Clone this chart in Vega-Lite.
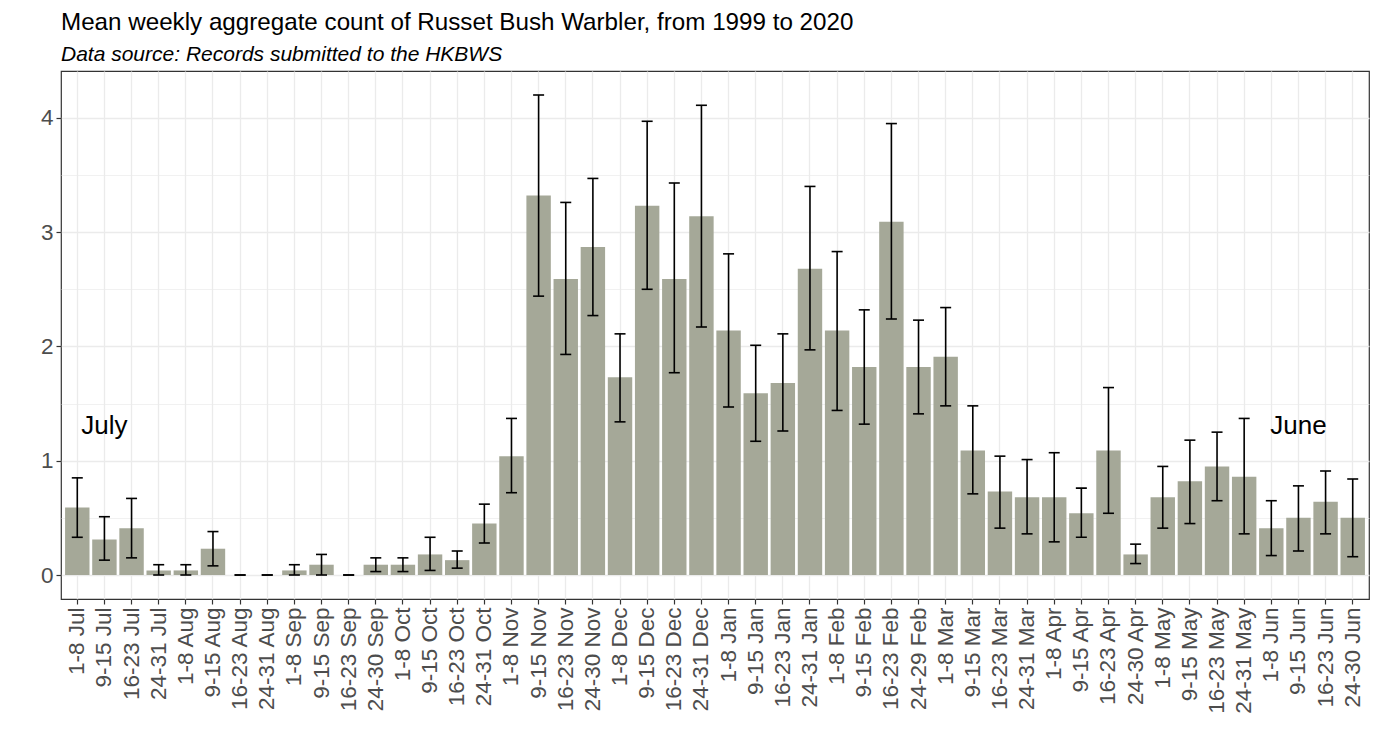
{
  "$schema": "https://vega.github.io/schema/vega-lite/v6.json",
  "width": 1308,
  "height": 528,
  "autosize": "none",
  "padding": {"left": 61, "top": 71, "right": 10, "bottom": 153},
  "background": "white",
  "title": {
    "text": "Mean weekly aggregate count of Russet Bush Warbler, from 1999 to 2020",
    "subtitle": "Data source: Records submitted to the HKBWS",
    "anchor": "start",
    "frame": "group",
    "font": "Liberation Sans",
    "fontSize": 24.2,
    "fontWeight": "normal",
    "color": "black",
    "subtitleFont": "Liberation Sans",
    "subtitleFontSize": 21,
    "subtitleFontStyle": "italic",
    "subtitleColor": "black",
    "subtitlePadding": 9,
    "offset": 6
  },
  "data": {
    "values": [
      {"week": "1-8 Jul", "mean": 0.59, "lo": 0.33, "hi": 0.85},
      {"week": "9-15 Jul", "mean": 0.31, "lo": 0.13, "hi": 0.51, "note": "July"},
      {"week": "16-23 Jul", "mean": 0.41, "lo": 0.15, "hi": 0.67},
      {"week": "24-31 Jul", "mean": 0.04, "lo": 0, "hi": 0.09},
      {"week": "1-8 Aug", "mean": 0.04, "lo": 0, "hi": 0.09},
      {"week": "9-15 Aug", "mean": 0.23, "lo": 0.08, "hi": 0.38},
      {"week": "16-23 Aug", "mean": 0, "lo": 0, "hi": 0},
      {"week": "24-31 Aug", "mean": 0, "lo": 0, "hi": 0},
      {"week": "1-8 Sep", "mean": 0.04, "lo": 0, "hi": 0.09},
      {"week": "9-15 Sep", "mean": 0.09, "lo": 0, "hi": 0.18},
      {"week": "16-23 Sep", "mean": 0, "lo": 0, "hi": 0},
      {"week": "24-30 Sep", "mean": 0.09, "lo": 0.03, "hi": 0.15},
      {"week": "1-8 Oct", "mean": 0.09, "lo": 0.03, "hi": 0.15},
      {"week": "9-15 Oct", "mean": 0.18, "lo": 0.04, "hi": 0.33},
      {"week": "16-23 Oct", "mean": 0.13, "lo": 0.06, "hi": 0.21},
      {"week": "24-31 Oct", "mean": 0.45, "lo": 0.28, "hi": 0.62},
      {"week": "1-8 Nov", "mean": 1.04, "lo": 0.72, "hi": 1.37},
      {"week": "9-15 Nov", "mean": 3.32, "lo": 2.44, "hi": 4.2},
      {"week": "16-23 Nov", "mean": 2.59, "lo": 1.93, "hi": 3.26},
      {"week": "24-30 Nov", "mean": 2.87, "lo": 2.27, "hi": 3.47},
      {"week": "1-8 Dec", "mean": 1.73, "lo": 1.34, "hi": 2.11},
      {"week": "9-15 Dec", "mean": 3.23, "lo": 2.5, "hi": 3.97},
      {"week": "16-23 Dec", "mean": 2.59, "lo": 1.77, "hi": 3.43},
      {"week": "24-31 Dec", "mean": 3.14, "lo": 2.17, "hi": 4.11},
      {"week": "1-8 Jan", "mean": 2.14, "lo": 1.47, "hi": 2.81},
      {"week": "9-15 Jan", "mean": 1.59, "lo": 1.17, "hi": 2.01},
      {"week": "16-23 Jan", "mean": 1.68, "lo": 1.26, "hi": 2.11},
      {"week": "24-31 Jan", "mean": 2.68, "lo": 1.97, "hi": 3.4},
      {"week": "1-8 Feb", "mean": 2.14, "lo": 1.44, "hi": 2.83},
      {"week": "9-15 Feb", "mean": 1.82, "lo": 1.32, "hi": 2.32},
      {"week": "16-23 Feb", "mean": 3.09, "lo": 2.24, "hi": 3.95},
      {"week": "24-29 Feb", "mean": 1.82, "lo": 1.41, "hi": 2.23},
      {"week": "1-8 Mar", "mean": 1.91, "lo": 1.48, "hi": 2.34},
      {"week": "9-15 Mar", "mean": 1.09, "lo": 0.71, "hi": 1.48},
      {"week": "16-23 Mar", "mean": 0.73, "lo": 0.41, "hi": 1.04},
      {"week": "24-31 Mar", "mean": 0.68, "lo": 0.36, "hi": 1.01},
      {"week": "1-8 Apr", "mean": 0.68, "lo": 0.29, "hi": 1.07},
      {"week": "9-15 Apr", "mean": 0.54, "lo": 0.33, "hi": 0.76},
      {"week": "16-23 Apr", "mean": 1.09, "lo": 0.54, "hi": 1.64},
      {"week": "24-30 Apr", "mean": 0.18, "lo": 0.1, "hi": 0.27},
      {"week": "1-8 May", "mean": 0.68, "lo": 0.41, "hi": 0.95},
      {"week": "9-15 May", "mean": 0.82, "lo": 0.45, "hi": 1.18},
      {"week": "16-23 May", "mean": 0.95, "lo": 0.65, "hi": 1.25},
      {"week": "24-31 May", "mean": 0.86, "lo": 0.36, "hi": 1.37},
      {"week": "1-8 Jun", "mean": 0.41, "lo": 0.17, "hi": 0.65},
      {"week": "9-15 Jun", "mean": 0.5, "lo": 0.21, "hi": 0.78, "note": "June"},
      {"week": "16-23 Jun", "mean": 0.64, "lo": 0.36, "hi": 0.91},
      {"week": "24-30 Jun", "mean": 0.5, "lo": 0.16, "hi": 0.84}
    ]
  },
  "encoding": {
    "x": {
      "field": "week",
      "type": "ordinal",
      "sort": null,
      "scale": {"paddingInner": 0.1, "paddingOuter": 0.15},
      "axis": {
        "title": null,
        "labelAngle": 270,
        "labelFontSize": 22.5,
        "labelColor": "#4d4d4d",
        "labelPadding": 3,
        "tickColor": "#333333",
        "tickSize": 5,
        "tickWidth": 1.2,
        "grid": true,
        "gridColor": "#ebebeb",
        "gridWidth": 1.3,
        "bandPosition": 0.5,
        "domain": false
      }
    }
  },
  "layer": [
    {
      "mark": {"type": "bar", "color": "#a5a898"},
      "encoding": {
        "y": {
          "field": "mean",
          "type": "quantitative",
          "scale": {"domain": [-0.21, 4.41], "nice": false, "zero": false},
          "axis": {
            "title": null,
            "values": [0, 0.5, 1, 1.5, 2, 2.5, 3, 3.5, 4],
            "labelExpr": "datum.value % 1 == 0 ? format(datum.value, 'd') : ''",
            "labelFontSize": 22.5,
            "labelColor": "#4d4d4d",
            "labelPadding": 3,
            "tickColor": "#333333",
            "tickSize": 5,
            "tickWidth": 1.2,
            "tickOpacity": {"condition": {"test": "datum.value % 1 != 0", "value": 0}, "value": 1},
            "gridColor": "#ebebeb",
            "gridWidth": {"condition": {"test": "datum.value % 1 != 0", "value": 0.7}, "value": 1.3},
            "domain": false
          }
        },
        "y2": {"datum": 0}
      }
    },
    {
      "mark": {"type": "rule", "color": "black", "strokeWidth": 1.6},
      "encoding": {
        "y": {"field": "lo", "type": "quantitative"},
        "y2": {"field": "hi"}
      }
    },
    {
      "mark": {"type": "tick", "color": "black", "size": 11, "thickness": 1.6, "opacity": 1},
      "encoding": {"y": {"field": "lo", "type": "quantitative"}}
    },
    {
      "mark": {"type": "tick", "color": "black", "size": 11, "thickness": 1.6, "opacity": 1},
      "encoding": {"y": {"field": "hi", "type": "quantitative"}}
    },
    {
      "transform": [{"filter": "datum.note != null"}],
      "mark": {"type": "text", "font": "Liberation Sans", "fontSize": 26, "color": "black", "align": "center", "baseline": "middle"},
      "encoding": {
        "y": {"datum": 1.3, "type": "quantitative"},
        "text": {"field": "note"}
      }
    }
  ],
  "config": {
    "font": "Liberation Sans",
    "axis": {"labelFont": "Liberation Sans"},
    "view": {"stroke": "#333333", "strokeWidth": 1.2}
  }
}
